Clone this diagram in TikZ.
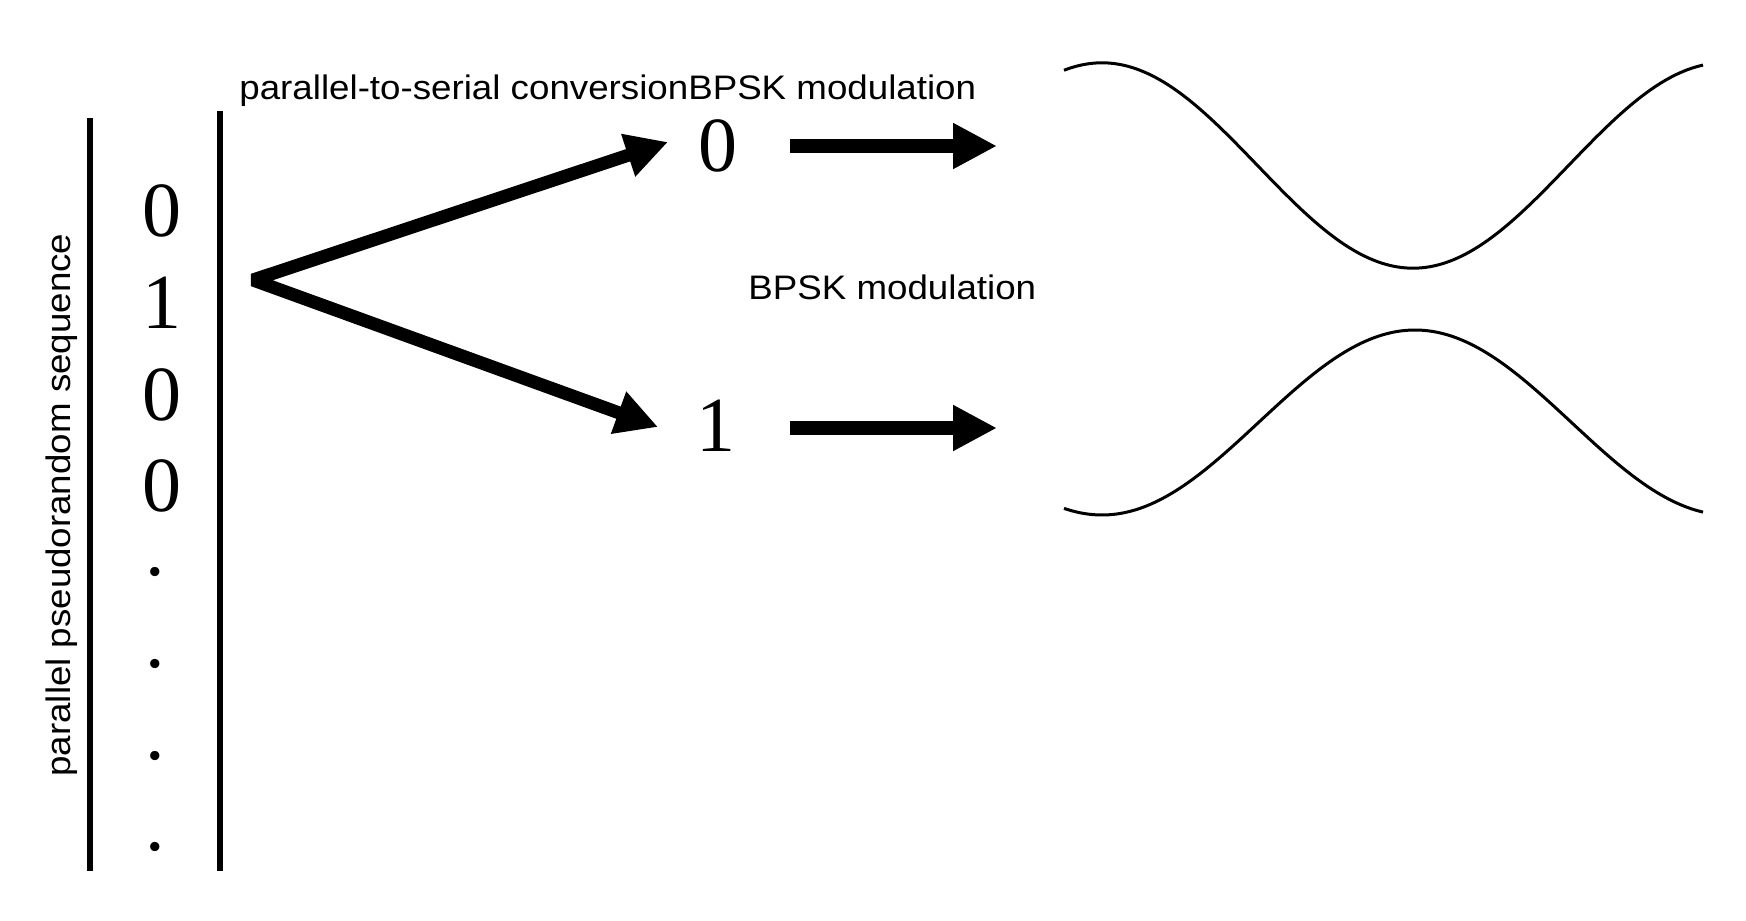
\documentclass[tikz,border=0pt]{standalone}
\usepackage{fontspec}
\newfontfamily\labfont[FakeStretch=1.08]{Liberation Sans}
\newfontfamily\digfont{Liberation Serif}
\usetikzlibrary{arrows.meta}
\begin{document}
\begin{tikzpicture}[x=0.5pt,y=-0.5pt,
  lab/.style={font=\labfont\fontsize{17pt}{20pt}\selectfont, inner sep=0pt},
  dig/.style={font=\digfont\fontsize{39pt}{44pt}\selectfont, inner sep=0pt, anchor=base},
  bar/.style={line width=2.75pt},
  fatv/.style={line width=6.5pt, line join=bevel,
    {Triangle[length=21pt,width=21pt]}-{Triangle[length=21pt,width=21pt]}},
  fath/.style={line width=7.25pt, -{Triangle[length=22pt,width=21.5pt]}},
  wave/.style={line width=1.5pt}]
\useasboundingbox (0,0) rectangle (1746,921);

% vertical bars
\coordinate (lbtop) at (90,118);
\coordinate (lbbot) at (90,871);
\coordinate (rbtop) at (220,111);
\coordinate (rbbot) at (220,871);
\draw[bar] (lbtop) -- (lbbot);
\draw[bar] (rbtop) -- (rbbot);

% vertical label
\node[lab, rotate=90, anchor=base west] (seq) at (70.5,777) {parallel pseudorandom sequence};

% column digits
\node[dig] (d1) at (162,236) {0};
\node[dig] (d2) at (162,328) {1};
\node[dig] (d3) at (162,420) {0};
\node[dig] (d4) at (162,511) {0};
\node[dig] (p1) at (155,575) {.};
\node[dig] (p2) at (155,667) {.};
\node[dig] (p3) at (155,759) {.};
\node[dig] (p4) at (155,850) {.};

% labels
\node[lab, anchor=base west] (top) at (239,99) {parallel-to-serial conversionBPSK modulation};
\node[lab, anchor=base west] (mid) at (748,299) {BPSK modulation};

% branch digits
\node[dig] (b0) at (718,171) {0};
\node[dig] (b1) at (716,451) {1};

% V arrows
\coordinate (vtx) at (253,280);
\coordinate (tipu) at (668,142);
\coordinate (tipl) at (658,427);
\draw[fatv] (tipu) -- (vtx) -- (tipl);

% horizontal arrows
\coordinate (hu0) at (790,146);
\coordinate (hu1) at (997,146);
\coordinate (hl0) at (790,428);
\coordinate (hl1) at (997,428);
\draw[fath] (hu0) -- (hu1);
\draw[fath] (hl0) -- (hl1);

% waves
\draw[wave] plot[domain=1064:1703, samples=160, smooth] (\x, {165.5 - 102.7*cos((\x-1102)/311*180)});
\draw[wave] plot[domain=1064:1703, samples=160, smooth] (\x, {422.5 + 92.5*cos((\x-1102)/313*180)});
\end{tikzpicture}
\end{document}
